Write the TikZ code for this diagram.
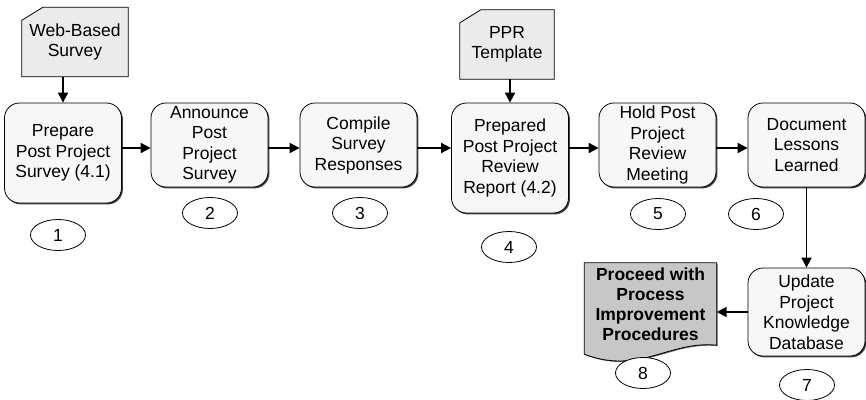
\documentclass[tikz,border=0pt]{standalone}
\usepackage{fontspec}
\setmainfont{Liberation Sans}
\usepackage{xcolor}
\usepackage{tikz}
\usetikzlibrary{arrows.meta}
\usetikzlibrary{shapes.geometric, calc, shadows, backgrounds}

\tikzset{
  stepbox/.style={draw, line width=0.8pt, rounded corners=15pt, fill=black!3,
    minimum width=117pt, minimum height=84pt, inner sep=0pt, align=center,
    drop shadow={shadow xshift=1.4pt, shadow yshift=-1.4pt, fill=black!75, opacity=1}},
  cardtext/.style={minimum height=69pt, inner sep=0pt, align=center},
  cardline/.style={draw, line width=0.8pt, fill=black!8},
  docline/.style={draw, line width=0.8pt, fill=black!22,
    drop shadow={shadow xshift=1pt, shadow yshift=-1pt, fill=black!60, opacity=1}},
  numtag/.style={ellipse, draw, line width=0.8pt, fill=white,
    minimum width=55pt, minimum height=31pt, inner sep=0pt},
  flow/.style={-{Triangle[length=10pt,width=10pt]}, line width=1.8pt}
}

\begin{document}
\begin{tikzpicture}[x=1pt, y=-1pt, font=\fontsize{17.5}{20.5}\selectfont]
  \useasboundingbox (0,0) rectangle (866,399);

  % inputs on top
  \node[cardtext, minimum width=106pt] (websurvey) at (75,42) {Web-Based\\Survey};
  \node[cardtext, minimum width=94pt] (pprtemplate) at (507,44.5) {PPR\\Template};

  % process steps
  \node[stepbox, minimum height=100pt] (prepare) at (63,153) {Prepare\\Post Project\\Survey (4.1)};
  \node[stepbox] (announce) at (209.5,145) {Announce\\Post\\Project\\Survey};
  \node[stepbox] (compile) at (358.5,145) {Compile\\Survey\\Responses};
  \node[stepbox, minimum height=110pt] (report) at (510,158) {Prepared\\Post Project\\Review\\Report (4.2)};
  \node[stepbox] (meeting) at (657.5,145) {Hold Post\\Project\\Review\\Meeting};
  \node[stepbox] (lessons) at (806.5,145) {Document\\Lessons\\Learned};
  \node[stepbox, minimum height=88pt] (database) at (806.5,312) {Update\\Project\\Knowledge\\Database};

  % final document
  \node[font=\fontsize{17.5}{20}\selectfont\bfseries, align=center, minimum width=132pt,
    minimum height=82pt, inner sep=0pt] (proceed) at (650.5,304)
    {Proceed with\\Process\\Improvement\\Procedures};

  \begin{scope}[on background layer]
    \draw[cardline] ($(websurvey.north west)+(0,13)$) -- ($(websurvey.north west)+(21,0)$)
      -- (websurvey.north east) -- (websurvey.south east) -- (websurvey.south west) -- cycle;
    \draw[cardline] ($(pprtemplate.north west)+(0,13)$) -- ($(pprtemplate.north west)+(21,0)$)
      -- (pprtemplate.north east) -- (pprtemplate.south east) -- (pprtemplate.south west) -- cycle;
    \draw[docline] (proceed.north west) -- (proceed.north east) -- (proceed.south east)
      .. controls +(-47,-5) and +(55,21) .. ($(proceed.south west)+(0,9)$) -- cycle;
  \end{scope}

  % step numbers
  \foreach \k/\x/\y in {1/58/235, 2/210/213, 3/360/213, 4/509/247,
                        5/658/214, 6/756/214, 7/807/385, 8/643/373} {
    \node[numtag] (num\k) at (\x,\y) {\k};
  }

  % connectors
  \coordinate (flowline) at (0,148);
  \draw[flow] (websurvey.south -| prepare.north) -- (prepare.north);
  \draw[flow] (pprtemplate.south -| report.north) -- (report.north);
  \foreach \a/\b in {prepare/announce, announce/compile, compile/report, report/meeting, meeting/lessons} {
    \draw[flow] (\a.east |- flowline) -- (\b.west |- flowline);
  }
  \draw[flow] (lessons.south) -- (database.north);
  \draw[flow] (database.west) -- (database.west -| proceed.east);
\end{tikzpicture}
\end{document}
